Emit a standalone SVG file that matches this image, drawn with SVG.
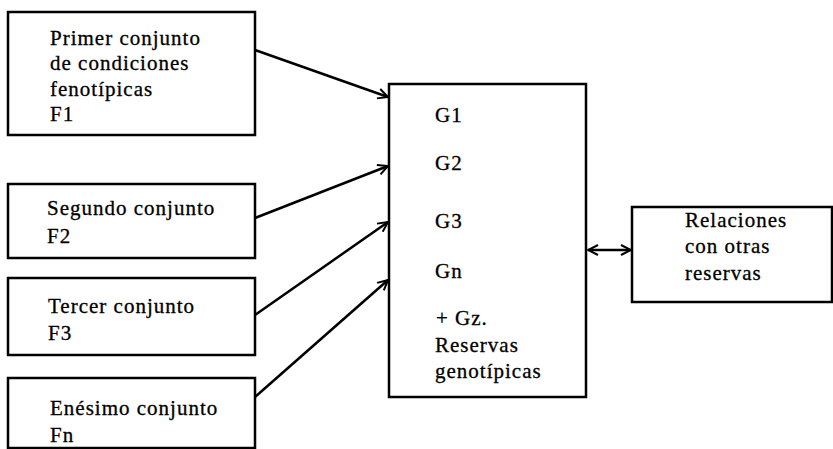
<svg xmlns="http://www.w3.org/2000/svg" width="833" height="449" viewBox="0 0 833 449" font-family="Liberation Serif, DejaVu Serif, serif">
  <style>
    .box { fill: #fff; stroke: #000; stroke-width: 2.5; }
    .lbl { font-size: 21px; letter-spacing: 1px; fill: #000; stroke: #000; stroke-width: 0.3; }
    .conn { stroke: #000; stroke-width: 2.5; fill: none; }
  </style>
  <defs>
    <marker id="head" viewBox="0 0 12 12" refX="11" refY="6" markerWidth="12" markerHeight="12" markerUnits="userSpaceOnUse" orient="auto-start-reverse">
      <path d="M1,1 L11,6 L1,11" fill="none" stroke="#000" stroke-width="2"/>
    </marker>
  </defs>

  <g id="f1">
    <rect class="box" x="8" y="12" width="247" height="123"/>
    <text class="lbl" x="50" y="45">Primer conjunto</text>
    <text class="lbl" x="50" y="70">de condiciones</text>
    <text class="lbl" x="50" y="96">fenotípicas</text>
    <text class="lbl" x="50" y="121">F1</text>
  </g>

  <g id="f2">
    <rect class="box" x="8" y="184" width="247" height="74"/>
    <text class="lbl" x="47" y="215">Segundo conjunto</text>
    <text class="lbl" x="47" y="243">F2</text>
  </g>

  <g id="f3">
    <rect class="box" x="8" y="278" width="247" height="77"/>
    <text class="lbl" x="48" y="313">Tercer conjunto</text>
    <text class="lbl" x="48" y="340">F3</text>
  </g>

  <g id="fn">
    <rect class="box" x="8" y="378" width="247" height="70"/>
    <text class="lbl" x="50" y="415">Enésimo conjunto</text>
    <text class="lbl" x="50" y="442">Fn</text>
  </g>

  <g id="reservas">
    <rect class="box" x="389" y="84" width="197" height="313"/>
    <text class="lbl" x="435" y="122">G1</text>
    <text class="lbl" x="435" y="170">G2</text>
    <text class="lbl" x="435" y="228">G3</text>
    <text class="lbl" x="435" y="278">Gn</text>
    <text class="lbl" x="436" y="325">+ Gz.</text>
    <text class="lbl" x="435" y="352">Reservas</text>
    <text class="lbl" x="435" y="378">genotípicas</text>
  </g>

  <g id="relaciones">
    <rect class="box" x="632" y="207" width="200" height="95"/>
    <text class="lbl" x="685" y="227">Relaciones</text>
    <text class="lbl" x="685" y="253">con otras</text>
    <text class="lbl" x="685" y="280">reservas</text>
  </g>

  <g id="connectors">
    <line class="conn" x1="255" y1="50" x2="388" y2="97" marker-end="url(#head)"/>
    <line class="conn" x1="255" y1="218" x2="388" y2="166" marker-end="url(#head)"/>
    <line class="conn" x1="255" y1="315" x2="388" y2="222" marker-end="url(#head)"/>
    <line class="conn" x1="255" y1="397" x2="388" y2="280" marker-end="url(#head)"/>
    <line class="conn" x1="588" y1="250" x2="631" y2="250" marker-start="url(#head)" marker-end="url(#head)"/>
  </g>
</svg>
